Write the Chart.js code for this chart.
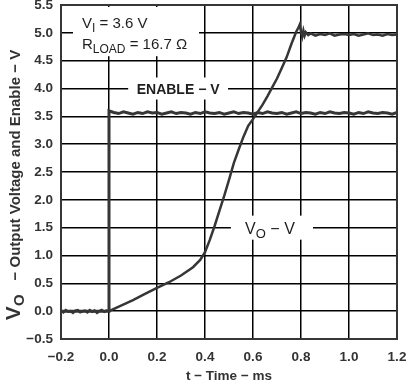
<!DOCTYPE html>
<html>
<head>
<meta charset="utf-8">
<script src="https://cdn.jsdelivr.net/npm/chart.js@4/dist/chart.umd.min.js"></script>
<style>
html,body{margin:0;padding:0;background:#fff;}
#wrap{width:406px;height:382px;}
</style>
</head>
<body>
<div id="wrap"><canvas id="c" width="406" height="382"></canvas></div>
<script>
// ---- data ----
const voTime = [-0.2,-0.19,-0.18,-0.17,-0.16,-0.15,-0.14,-0.13,-0.12,-0.11,-0.1,-0.09,-0.08,-0.07,-0.06,-0.05,-0.04,-0.03,-0.02,-0.01,0.0,
  0.05,0.1,0.15,0.2,0.25,0.3,0.35,0.38,0.4,0.42,0.44,0.46,0.48,0.5,0.52,0.54,0.56,0.58,0.6,0.62,0.64,0.66,0.68,0.7,0.72,0.74,0.76,0.78,0.79,0.795,0.8,0.805,0.81,0.815,0.82,0.83,0.84,
  0.86,0.88,0.9,0.92,0.94,0.96,0.98,1.0,1.02,1.04,1.06,1.08,1.1,1.12,1.14,1.16,1.18,1.2];
const voValue = [0.01,-0.02,0.02,-0.01,0.0,-0.03,0.01,0.02,-0.02,0.0,0.01,-0.02,0.02,-0.01,0.01,-0.03,0.0,0.02,-0.01,0.01,0.0,
  0.1,0.2,0.31,0.42,0.52,0.64,0.79,0.92,1.06,1.28,1.53,1.8,2.07,2.36,2.66,2.9,3.13,3.33,3.45,3.58,3.71,3.86,4.02,4.18,4.37,4.56,4.8,5.02,5.1,5.15,5.02,4.93,5.04,4.95,5.01,4.96,4.99,
  4.95,4.98,4.96,4.99,4.95,4.97,4.98,4.96,4.98,4.95,4.97,4.99,4.96,4.97,4.95,4.98,4.96,4.97];

const enTime = [-0.2,-0.15,-0.1,-0.05,0.0,0.0,0.02,0.04,0.06,0.08,0.1,0.12,0.14,0.16,0.18,0.2,0.22,0.24,0.26,0.28,0.3,0.32,0.34,0.36,0.38,0.4,
  0.42,0.44,0.46,0.48,0.5,0.52,0.54,0.56,0.58,0.6,0.62,0.64,0.66,0.68,0.7,0.72,0.74,0.76,0.78,0.8,0.82,0.84,0.86,0.88,0.9,0.92,0.94,0.96,0.98,1.0,
  1.02,1.04,1.06,1.08,1.1,1.12,1.14,1.16,1.18,1.2];
const enValue = [0.0,0.0,0.0,0.0,0.0,3.6,3.57,3.55,3.58,3.56,3.54,3.57,3.55,3.58,3.56,3.57,3.54,3.56,3.58,3.55,3.57,3.56,3.54,3.57,3.55,3.58,
  3.56,3.55,3.57,3.54,3.56,3.58,3.55,3.57,3.56,3.54,3.57,3.55,3.58,3.56,3.55,3.57,3.54,3.56,3.58,3.55,3.57,3.56,3.54,3.57,3.55,3.58,3.56,3.55,3.57,3.56,
  3.54,3.57,3.55,3.58,3.56,3.55,3.57,3.56,3.54,3.57];

const xTicks = [-0.2,0.0,0.2,0.4,0.6,0.8,1.0,1.2];
const yTicks = [-0.5,0.0,0.5,1.0,1.5,2.0,2.5,3.0,3.5,4.0,4.5,5.0,5.5];

const FONT = "'Liberation Sans', Arial, Helvetica, sans-serif";
const INK = '#363636';

function fmt(v){ const s = Math.abs(v).toFixed(1); return v < -1e-9 ? '\u2212' + s : s; }

function runsWidth(ctx, runs){
  let w = 0;
  for (const r of runs){ ctx.font = r.font; w += ctx.measureText(r.text).width + (r.gap || 0); }
  return w;
}
function drawRuns(ctx, runs, x, y){
  for (const r of runs){
    ctx.font = r.font;
    ctx.fillText(r.text, x, y + (r.dy || 0));
    x += ctx.measureText(r.text).width + (r.gap || 0);
  }
}

const labelPlugin = {
  id: 'labels',
  beforeDatasetsDraw(chart){
    const ctx = chart.ctx, xs = chart.scales.x, ys = chart.scales.y;
    ctx.save();
    ctx.fillStyle = '#fff';
    // annotation box top-left
    const a0 = xs.getPixelForValue(-0.15), a1 = xs.getPixelForValue(0.375);
    const aTop = ys.getPixelForValue(5.5) + 2, aBot = ys.getPixelForValue(4.58);
    ctx.fillRect(a0, aTop, a1 - a0, aBot - aTop);
    // ENABLE box
    const e0 = xs.getPixelForValue(0.08), e1 = xs.getPixelForValue(0.496), ey = ys.getPixelForValue(4.0);
    ctx.fillRect(e0, ey - 11, e1 - e0, 22);
    // VO box
    const v0 = xs.getPixelForValue(0.508), v1 = xs.getPixelForValue(0.85), vy = ys.getPixelForValue(1.5);
    ctx.fillRect(v0, vy - 12, v1 - v0, 24);

    ctx.fillStyle = '#1e1e1e';
    ctx.textBaseline = 'alphabetic';
    ctx.textAlign = 'left';
    const ax = a0 + 9;
    drawRuns(ctx, [
      {text:'V', font:'15px ' + FONT},
      {text:'I', font:'12px ' + FONT, dy:4},
      {text:' = 3.6 V', font:'15px ' + FONT}
    ], ax, ys.getPixelForValue(5.5) + 23);
    drawRuns(ctx, [
      {text:'R', font:'15px ' + FONT},
      {text:'LOAD', font:'12px ' + FONT, dy:4},
      {text:' = 16.7 \u03A9', font:'15px ' + FONT}
    ], ax, ys.getPixelForValue(5.5) + 44);

    const en = [{text:'ENABLE \u2212 V', font:'bold 14px ' + FONT}];
    const ecx = (e0 + e1) / 2;
    drawRuns(ctx, en, ecx - runsWidth(ctx, en) / 2, ey + 5);

    const vo = [
      {text:'V', font:'16px ' + FONT},
      {text:'O', font:'13px ' + FONT, dy:4},
      {text:' \u2212 V', font:'16px ' + FONT}
    ];
    const vcx = (v0 + v1) / 2 - 2;
    drawRuns(ctx, vo, vcx - runsWidth(ctx, vo) / 2, vy + 6);
    ctx.restore();
  },
  afterDraw(chart){
    const ctx = chart.ctx, ca = chart.chartArea;
    ctx.save();
    ctx.strokeStyle = INK;
    ctx.lineWidth = 2;
    ctx.strokeRect(ca.left, ca.top, ca.right - ca.left, ca.bottom - ca.top);

    ctx.fillStyle = '#333';
    // x title
    const xt = [{text:'t \u2212 Time \u2212 ms', font:'bold 13.5px ' + FONT}];
    const xcx = (ca.left + ca.right) / 2;
    drawRuns(ctx, xt, xcx - runsWidth(ctx, xt) / 2, 380);
    // y title (rotated)
    const yt = [
      {text:'V', font:'bold 21px ' + FONT},
      {text:'O', font:'bold 15px ' + FONT, dy:4, gap:14},
      {text:'\u2212 Output Voltage and Enable \u2212 V', font:'bold 15px ' + FONT}
    ];
    const w = runsWidth(ctx, yt);
    const cy = 185;
    ctx.translate(20, cy);
    ctx.rotate(-Math.PI / 2);
    drawRuns(ctx, yt, -w / 2, 0);
    ctx.restore();
  }
};

const ctx = document.getElementById('c').getContext('2d');
new Chart(ctx, {
  type: 'line',
  data: {
    datasets: [
      {
        label: 'VO',
        data: voTime.map((t, i) => ({x: t, y: voValue[i]})),
        borderColor: INK, borderWidth: 2.5, pointRadius: 0, tension: 0, fill: false
      },
      {
        label: 'ENABLE',
        data: enTime.map((t, i) => ({x: t, y: enValue[i]})),
        borderColor: INK, borderWidth: 3, pointRadius: 0, tension: 0, fill: false
      }
    ]
  },
  options: {
    responsive: false,
    animation: false,
    devicePixelRatio: 1,
    layout: { padding: { top: 5, right: 9, left: 0, bottom: 0 } },
    plugins: { legend: { display: false }, tooltip: { enabled: false } },
    scales: {
      x: {
        type: 'linear', min: -0.2, max: 1.2,
        afterBuildTicks(s){ s.ticks = xTicks.map(v => ({value: v})); },
        afterFit(s){ s.height = 43; s.paddingLeft = 0; s.paddingRight = 0; },
        ticks: { callback: v => fmt(v), color: '#333', padding: 10, maxRotation: 0, font: { family: FONT, size: 13.5, weight: 'bold' } },
        grid: { color: '#000', lineWidth: 1.5, drawTicks: false },
        border: { display: false }
      },
      y: {
        type: 'linear', min: -0.5, max: 5.5,
        afterBuildTicks(s){ s.ticks = yTicks.map(v => ({value: v})); },
        afterFit(s){ s.width = 61; s.paddingTop = 0; s.paddingBottom = 0; },
        ticks: { callback: v => fmt(v), color: '#333', padding: 8, font: { family: FONT, size: 13.5, weight: 'bold' } },
        grid: { color: '#000', lineWidth: 1.5, drawTicks: false },
        border: { display: false }
      }
    }
  },
  plugins: [labelPlugin]
});
</script>
</body>
</html>
